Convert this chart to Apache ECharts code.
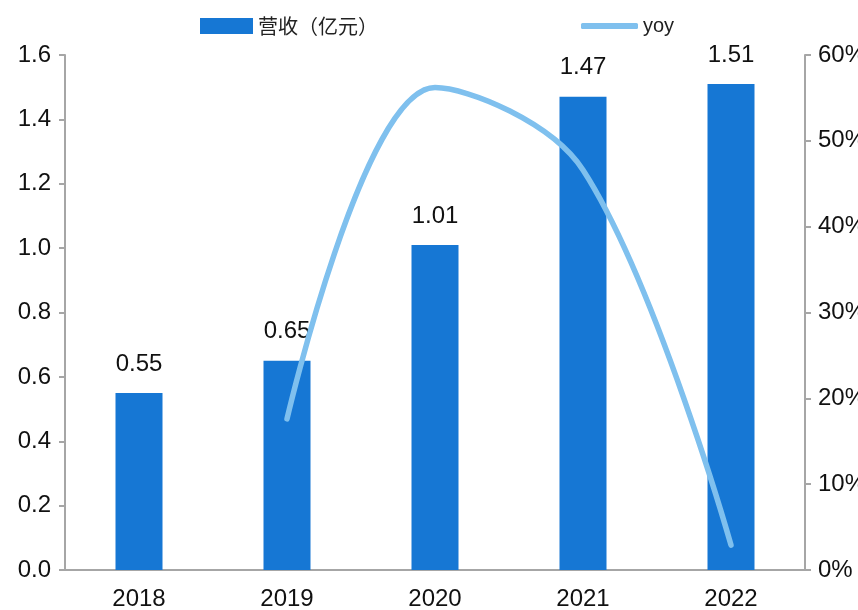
<!DOCTYPE html>
<html><head><meta charset="utf-8">
<script src="https://cdn.jsdelivr.net/npm/echarts@6/dist/echarts.min.js"></script>
<style>html,body{margin:0;padding:0;background:#fff}#c{width:858px;height:610px}</style>
</head><body><div id="c"></div>
<script>
const categories = ['2018','2019','2020','2021','2022'];
const revenue = [0.55, 0.65, 1.01, 1.47, 1.51];
const yoy = [null, 17.6, 56.2, 46.6, 2.9];
const leftTicks = [0, 0.2, 0.4, 0.6, 0.8, 1.0, 1.2, 1.4, 1.6];
const rightTicks = [0, 10, 20, 30, 40, 50, 60];

const chart = echarts.init(document.getElementById('c'));
const axisColor = '#a6a6a6';
const lineColor = '#7fc0ee';
const fs = 24;
chart.setOption({
  animation: false,
  textStyle: { fontFamily: 'Liberation Sans, Arial, sans-serif' },
  grid: { left: 65, right: 53, top: 55, bottom: 40, containLabel: false, outerBoundsMode: 'none' },
  legend: [
    {
      top: 11, left: 195,
      itemWidth: 53, itemHeight: 16,
      textStyle: { fontSize: 20, color: '#222', fontFamily: 'Noto Sans CJK JP, Noto Sans CJK SC, sans-serif' },
      data: [{ name: '营收（亿元）', icon: 'rect' }]
    },
    {
      top: 11, left: 576,
      itemWidth: 57, itemHeight: 6,
      textStyle: { fontSize: 20, color: '#222' },
      data: [{ name: 'yoy', icon: 'roundRect', itemStyle: { color: lineColor } }]
    }
  ],
  xAxis: {
    type: 'category',
    data: categories,
    axisLine: { lineStyle: { color: axisColor, width: 2 } },
    axisTick: { show: false },
    axisLabel: { fontSize: fs, color: '#111', margin: 17 }
  },
  yAxis: [
    {
      type: 'value', min: leftTicks[0], max: leftTicks[leftTicks.length-1], interval: 0.2,
      axisLine: { show: true, lineStyle: { color: axisColor, width: 2 } },
      axisTick: { show: true, length: 6, lineStyle: { color: axisColor, width: 2 } },
      splitLine: { show: false },
      axisLabel: { fontSize: fs, color: '#111', margin: 14, formatter: v => v.toFixed(1) }
    },
    {
      type: 'value', min: rightTicks[0], max: rightTicks[rightTicks.length-1], interval: 10,
      position: 'right',
      axisLine: { show: true, lineStyle: { color: axisColor, width: 2 } },
      axisTick: { show: true, length: 6, lineStyle: { color: axisColor, width: 2 } },
      splitLine: { show: false },
      axisLabel: { fontSize: fs, color: '#111', margin: 13, formatter: v => v + '%' }
    }
  ],
  series: [
    {
      name: '营收（亿元）', type: 'bar', data: revenue, barWidth: 47,
      itemStyle: { color: '#1677d4' },
      label: { show: true, position: 'top', distance: 17, fontSize: fs, color: '#111',
               formatter: p => p.value.toFixed(2) }
    },
    {
      name: 'yoy', type: 'line', yAxisIndex: 1, data: yoy, smooth: 0.35,
      showSymbol: false, symbol: 'none',
      lineStyle: { color: lineColor, width: 5.5, cap: 'round' },
      itemStyle: { color: lineColor }
    }
  ]
});
</script></body></html>
